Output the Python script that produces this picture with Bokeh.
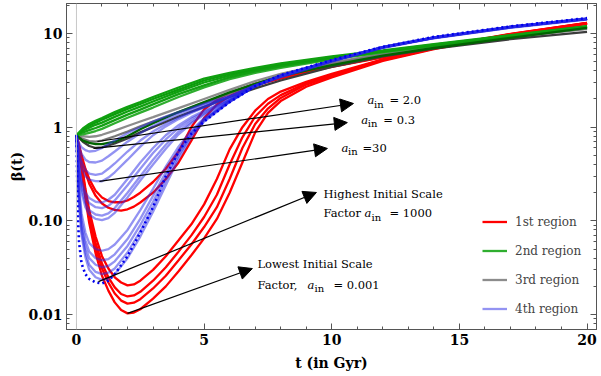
from bokeh.plotting import figure
from bokeh.models import (Range1d, FixedTicker, LinearAxis, LogAxis, Span, Arrow,
                          NormalHead, Legend, LegendItem, ColumnDataSource)
from bokeh.embed import file_html
from bokeh.resources import INLINE
from bokeh.core.properties import value

# ---------------- data ----------------
# 1st region (red)
t_red = [0, 0.1, 0.2, 0.35, 0.5, 0.75, 1, 1.25, 1.5, 1.75, 2, 2.25, 2.5, 3, 3.5, 4, 4.5,
         5, 5.5, 6, 6.5, 7, 7.5, 8, 9, 10, 12, 14, 17, 20]
red_1 = [0.82, 0.62, 0.42, 0.22, 0.13, 0.068, 0.042, 0.031, 0.025, 0.022, 0.0205, 0.021, 0.023, 0.03, 0.042, 0.062, 0.092, 0.15, 0.28, 0.58, 1.0, 1.5, 2.0, 2.4, 3.05, 3.7, 5.3, 7.0, 9.8, 12.9]
red_2 = [0.82, 0.6, 0.4, 0.2, 0.115, 0.058, 0.035, 0.025, 0.0195, 0.0166, 0.0156, 0.016, 0.0175, 0.023, 0.032, 0.047, 0.07, 0.11, 0.19, 0.4, 0.78, 1.3, 1.78, 2.2, 2.95, 3.6, 5.25, 6.95, 9.75, 12.85]
red_3 = [0.82, 0.58, 0.38, 0.19, 0.105, 0.052, 0.031, 0.022, 0.0168, 0.0141, 0.0131, 0.0134, 0.0146, 0.019, 0.026, 0.038, 0.056, 0.086, 0.14, 0.28, 0.6, 1.08, 1.58, 2.05, 2.85, 3.5, 5.2, 6.9, 9.7, 12.8]
red_4 = [0.82, 0.56, 0.36, 0.175, 0.095, 0.045, 0.026, 0.018, 0.0135, 0.0112, 0.0103, 0.0105, 0.0114, 0.0148, 0.02, 0.029, 0.043, 0.065, 0.105, 0.2, 0.42, 0.88, 1.42, 1.9, 2.7, 3.4, 5.1, 6.8, 9.6, 12.7]
red_5 = [0.82, 0.65, 0.5, 0.36, 0.28, 0.21, 0.178, 0.163, 0.158, 0.158, 0.165, 0.18, 0.2, 0.26, 0.36, 0.55, 1.0, 1.55, 1.95, 2.3, 2.6, 2.9, 3.15, 3.4, 3.9, 4.45, 5.6, 7.1, 9.9, 13.0]
red_6 = [0.82, 0.63, 0.47, 0.33, 0.25, 0.185, 0.153, 0.138, 0.131, 0.129, 0.133, 0.142, 0.157, 0.2, 0.28, 0.42, 0.72, 1.25, 1.75, 2.15, 2.5, 2.8, 3.05, 3.3, 3.85, 4.4, 5.55, 7.05, 9.85, 13.0]

# 2nd region (green) and 3rd region (gray)
t_grn = [0, 0.25, 0.5, 0.75, 1, 1.5, 2, 2.5, 3, 4, 5, 6, 7, 8, 10, 12, 14, 17, 20]
green_1 = [0.82, 0.97, 1.08, 1.17, 1.25, 1.45, 1.65, 1.85, 2.1, 2.65, 3.3, 3.8, 4.3, 4.8, 5.7, 6.6, 7.7, 9.6, 12.0]
green_2 = [0.82, 0.95, 1.04, 1.12, 1.2, 1.38, 1.57, 1.77, 2.0, 2.52, 3.15, 3.7, 4.2, 4.7, 5.6, 6.5, 7.6, 9.5, 11.9]
green_3 = [0.82, 0.92, 0.99, 1.06, 1.12, 1.29, 1.47, 1.66, 1.88, 2.4, 3.0, 3.55, 4.1, 4.6, 5.5, 6.45, 7.5, 9.4, 11.8]
green_4 = [0.82, 0.88, 0.93, 0.98, 1.04, 1.19, 1.36, 1.54, 1.75, 2.25, 2.8, 3.4, 3.95, 4.45, 5.4, 6.35, 7.4, 9.3, 11.7]
green_5 = [0.82, 0.84, 0.87, 0.91, 0.96, 1.1, 1.26, 1.43, 1.62, 2.1, 2.66, 3.25, 3.8, 4.3, 5.3, 6.3, 7.35, 9.25, 11.6]
green_dark = [0.82, 0.72, 0.68, 0.66, 0.66, 0.7, 0.8, 0.95, 1.1, 1.45, 1.85, 2.35, 2.9, 3.5, 4.6, 5.8, 7.0, 9.0, 11.5]
gray_1 = [0.82, 0.8, 0.79, 0.8, 0.83, 0.92, 1.03, 1.15, 1.28, 1.6, 2.0, 2.5, 3.1, 3.7, 4.9, 6.1, 7.3, 9.2, 11.3]
gray_2 = [0.82, 0.75, 0.71, 0.7, 0.72, 0.8, 0.9, 1.02, 1.15, 1.45, 1.82, 2.3, 2.9, 3.5, 4.75, 6.0, 7.2, 9.1, 11.2]
gray_3 = [0.82, 0.7, 0.63, 0.6, 0.61, 0.67, 0.76, 0.88, 1.0, 1.3, 1.65, 2.1, 2.6, 3.15, 4.4, 5.7, 6.9, 8.7, 10.4]

# 4th region (blue)
t_blue = [0, 0.05, 0.1, 0.2, 0.35, 0.5, 0.75, 1, 1.25, 1.5, 2, 2.5, 3, 3.5, 4, 4.5, 5,
          6, 7, 8, 10, 12, 14, 17, 20]
blue_1 = [0.82, 0.74, 0.68, 0.61, 0.57, 0.55, 0.56, 0.6, 0.66, 0.72, 0.86, 1.0, 1.15, 1.3, 1.45, 1.6, 1.78, 2.15, 2.75, 3.4, 5.0, 7.0, 8.9, 11.5, 14.1]
blue_2 = [0.82, 0.7, 0.62, 0.52, 0.45, 0.425, 0.42, 0.44, 0.49, 0.55, 0.7, 0.86, 1.03, 1.2, 1.38, 1.55, 1.73, 2.15, 2.8, 3.45, 5.05, 7.05, 8.95, 11.6, 14.2]
blue_3 = [0.82, 0.66, 0.55, 0.43, 0.35, 0.32, 0.31, 0.32, 0.36, 0.41, 0.55, 0.72, 0.9, 1.08, 1.27, 1.46, 1.65, 2.1, 2.8, 3.5, 5.1, 7.1, 9.0, 11.6, 14.2]
blue_4 = [0.82, 0.62, 0.5, 0.37, 0.3, 0.275, 0.266, 0.265, 0.29, 0.33, 0.45, 0.62, 0.82, 1.02, 1.22, 1.42, 1.62, 2.1, 2.8, 3.5, 5.1, 7.1, 9.0, 11.6, 14.2]
blue_5 = [0.82, 0.55, 0.4, 0.27, 0.2, 0.175, 0.16, 0.157, 0.168, 0.19, 0.28, 0.42, 0.6, 0.82, 1.05, 1.28, 1.5, 2.0, 2.75, 3.5, 5.1, 7.1, 9.0, 11.7, 14.3]
blue_6 = [0.82, 0.53, 0.38, 0.25, 0.18, 0.155, 0.14, 0.137, 0.145, 0.165, 0.24, 0.36, 0.53, 0.74, 0.98, 1.22, 1.45, 1.98, 2.75, 3.5, 5.1, 7.1, 9.0, 11.7, 14.3]
blue_7 = [0.82, 0.5, 0.35, 0.22, 0.155, 0.13, 0.117, 0.114, 0.12, 0.137, 0.2, 0.3, 0.45, 0.65, 0.9, 1.15, 1.4, 1.95, 2.75, 3.5, 5.1, 7.1, 9.0, 11.7, 14.3]
blue_8 = [0.82, 0.48, 0.33, 0.2, 0.14, 0.117, 0.105, 0.102, 0.107, 0.122, 0.178, 0.27, 0.4, 0.59, 0.84, 1.1, 1.36, 1.93, 2.75, 3.5, 5.1, 7.1, 9.05, 11.7, 14.3]
blue_9 = [0.82, 0.4, 0.24, 0.12, 0.075, 0.058, 0.05, 0.048, 0.05, 0.056, 0.08, 0.13, 0.22, 0.38, 0.62, 0.92, 1.25, 1.9, 2.75, 3.55, 5.15, 7.15, 9.1, 11.8, 14.4]
blue_10 = [0.82, 0.37, 0.21, 0.1, 0.062, 0.047, 0.04, 0.038, 0.039, 0.044, 0.064, 0.105, 0.185, 0.33, 0.57, 0.88, 1.22, 1.88, 2.75, 3.55, 5.15, 7.15, 9.1, 11.8, 14.4]
blue_11 = [0.82, 0.34, 0.19, 0.088, 0.053, 0.04, 0.034, 0.032, 0.033, 0.037, 0.054, 0.09, 0.16, 0.3, 0.53, 0.85, 1.2, 1.88, 2.75, 3.55, 5.15, 7.15, 9.1, 11.8, 14.4]
blue_12 = [0.82, 0.32, 0.17, 0.078, 0.046, 0.034, 0.0285, 0.027, 0.028, 0.031, 0.046, 0.078, 0.14, 0.27, 0.5, 0.82, 1.18, 1.87, 2.75, 3.55, 5.15, 7.15, 9.1, 11.8, 14.4]
blue_13 = [0.82, 0.3, 0.15, 0.07, 0.041, 0.03, 0.025, 0.0235, 0.024, 0.027, 0.04, 0.068, 0.125, 0.24, 0.46, 0.78, 1.15, 1.86, 2.75, 3.55, 5.15, 7.15, 9.1, 11.8, 14.4]
blue_dotted = [0.82, 0.12, 0.06, 0.035, 0.027, 0.024, 0.022, 0.0215, 0.023, 0.027, 0.042, 0.075, 0.14, 0.3, 0.55, 0.85, 1.15, 1.85, 2.75, 3.6, 5.2, 7.2, 9.2, 11.9, 14.6]

legend_labels = ["1st region", "2nd region", "3rd region", "4th region"]
x_ticks = [0, 5, 10, 15, 20]
y_ticks = [0.01, 0.1, 1, 10]
y_tick_labels = ["0.01", "0.10", "1", "10"]

# annotation arrows: (t_start, beta_start, t_end, beta_end)
arrow_t0 = [0.82, 0.67, 0.90, 0.86, 2.0]
arrow_b0 = [0.703, 0.593, 0.264, 0.0225, 0.0103]
arrow_t1 = [10.85, 10.61, 9.83, 9.40, 6.89]
arrow_b1 = [1.79, 1.12, 0.593, 0.201, 0.031]

# ---------------- figure ----------------
FONT = "DejaVu Serif"
AX = "#555555"

p = figure(width=600, height=375, x_range=Range1d(-0.39, 20.37),
           y_range=Range1d(0.00693, 20.9), y_axis_type="log",
           output_backend="svg", toolbar_location=None,
           min_border_left=66, min_border_right=4, min_border_top=3,
           min_border_bottom=46)
p.xgrid.visible = False
p.ygrid.visible = False
p.outline_line_color = AX
p.background_fill_color = "white"

bottom_ax = p.below[0]
left_ax = p.left[0]

p.add_layout(Span(location=0, dimension="height", line_color="#c8c8c8", line_width=1))

xt = FixedTicker(ticks=x_ticks, minor_ticks=list(range(0, 21)))
minor_y = [0.007, 0.008, 0.009] + [k * 0.01 for k in range(2, 10)] + \
          [k * 0.1 for k in range(2, 10)] + [k * 1.0 for k in range(2, 10)] + [20.0]
yt = FixedTicker(ticks=y_ticks, minor_ticks=minor_y)

top_ax = LinearAxis(ticker=xt)
right_ax = LogAxis(ticker=yt)
p.add_layout(top_ax, "above")
p.add_layout(right_ax, "right")
bottom_ax.ticker = xt
left_ax.ticker = yt
left_ax.major_label_overrides = {v: s for v, s in zip(y_ticks, y_tick_labels)}

for ax in [bottom_ax, left_ax, top_ax, right_ax]:
    ax.major_tick_in = 6
    ax.major_tick_out = 0
    ax.minor_tick_in = 3
    ax.minor_tick_out = 0
    ax.axis_line_color = AX
    ax.major_tick_line_color = AX
    ax.minor_tick_line_color = AX
    ax.major_label_text_font = FONT
    ax.major_label_text_font_style = "bold"
    ax.major_label_text_font_size = "14px"
    ax.major_label_text_color = "black"
    ax.axis_label_text_font = FONT
    ax.axis_label_text_font_style = "bold"
    ax.axis_label_text_font_size = "14px"
    ax.axis_label_text_color = "black"
for ax in [top_ax, right_ax]:
    ax.major_label_text_font_size = "1px"
    ax.major_label_text_alpha = 0
    ax.major_label_standoff = 0

bottom_ax.axis_label = "t (in Gyr)"
bottom_ax.major_label_standoff = 4
bottom_ax.axis_label_standoff = 7
left_ax.axis_label = "β(t)"
left_ax.major_label_standoff = 4
left_ax.axis_label_standoff = 0

# ---------------- curves ----------------
LW = 2.3
red_r = None
for ys in [red_1, red_2, red_3, red_4, red_5, red_6]:
    red_r = p.line(t_red, ys, line_color="#ff0000", line_width=LW)

gray_r = None
for ys, c in [(gray_1, "#8c8c8c"), (gray_2, "#777777"), (gray_3, "#3c3c3c")]:
    r = p.line(t_grn, ys, line_color=c, line_width=LW)
    if gray_r is None:
        gray_r = r

green_r = None
for ys, c in [(green_5, "#2fae2f"), (green_4, "#14a014"), (green_3, "#10a010"),
              (green_2, "#0c9c0c"), (green_1, "#10a010"), (green_dark, "#006400")]:
    r = p.line(t_grn, ys, line_color=c, line_width=LW)
    if green_r is None:
        green_r = r

blue_r = None
for ys in [blue_1, blue_2, blue_3, blue_4, blue_5, blue_6, blue_7, blue_8,
           blue_9, blue_10, blue_11, blue_12, blue_13]:
    r = p.line(t_blue, ys, line_color="#2828e6", line_alpha=0.5, line_width=LW)
    if blue_r is None:
        blue_r = r
p.line(t_blue, blue_dotted, line_color="#0000ee", line_width=2.6, line_dash="2 3")

# ---------------- arrows ----------------
for a, b, c, d in zip(arrow_t0, arrow_b0, arrow_t1, arrow_b1):
    p.add_layout(Arrow(end=NormalHead(size=13, fill_color="black", line_color="black"),
                       x_start=a, y_start=b, x_end=c, y_end=d,
                       line_color="black", line_width=1.2))

# ---------------- annotation texts (pieces for subscripts) ----------------
note_t = [11.40, 11.40, 11.40,
          11.16, 11.16, 11.16,
          10.38, 10.38, 10.38,
          9.675,
          9.675, 9.675, 9.675, 9.675,
          7.09,
          7.09, 7.09, 7.09, 7.09]
note_b = [1.928, 1.928, 1.928,
          1.208, 1.208, 1.208,
          0.607, 0.607, 0.607,
          0.196,
          0.12, 0.12, 0.12, 0.12,
          0.0343,
          0.0209, 0.0209, 0.0209, 0.0209]
note_text = ["a", "in", "= 2.0",
             "a", "in", "= 0.3",
             "a", "in", "=30",
             "Highest Initial Scale",
             "Factor", "a", "in", "=  1000",
             "Lowest Initial Scale",
             "Factor,", "a", "in", "= 0.001"]
note_dx = [0, 6.5, 22,
           0, 6.5, 22,
           0, 6.5, 21,
           0,
           0, 41, 48, 66,
           0,
           0, 50, 57, 76]
note_dy = [0, 4, 0,
           0, 4, 0,
           0, 4, 0,
           0,
           0, 0, 4, 0,
           0,
           0, 0, 4, 0]
note_style = ["italic", "normal", "normal"] * 3 + ["normal"] + \
             ["normal", "italic", "normal", "normal"] + ["normal"] + \
             ["normal", "italic", "normal", "normal"]
note_size = ["11.5px" if s != "in" else "10px" for s in note_text]

src = ColumnDataSource(dict(x=note_t, y=note_b, text=note_text, dx=note_dx, dy=note_dy,
                            style=note_style, size=note_size))
p.text(x="x", y="y", text="text", x_offset="dx", y_offset="dy", source=src,
       text_font=value(FONT), text_font_size="size", text_font_style="style",
       text_baseline="middle", text_align="left", text_color="black")

# ---------------- legend ----------------
legend = Legend(items=[LegendItem(label=l, renderers=[r]) for l, r in
                       zip(legend_labels, [red_r, green_r, gray_r, blue_r])],
                location=(416, 13), orientation="vertical",
                label_text_font=FONT, label_text_font_size="12px",
                glyph_width=25, glyph_height=15, label_height=15,
                label_standoff=8, spacing=14, padding=0, margin=0,
                background_fill_alpha=0, border_line_alpha=0)
p.add_layout(legend)

open("out.html", "w").write(file_html(p, INLINE))
